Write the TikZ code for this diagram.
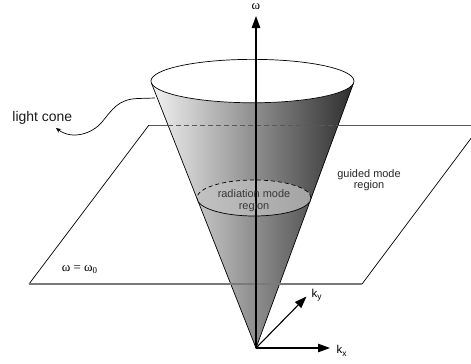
\documentclass[tikz,border=0pt]{standalone}
\usepackage{fontspec}
\setmainfont{Liberation Sans}
\newfontfamily\grk{Liberation Serif}
\usetikzlibrary{arrows.meta}
\newcommand\myfs[1]{\fontsize{#1}{#1}\selectfont}
\newcommand\mysub[2]{\raisebox{-#2}{\myfs{8.5}#1}}
\begin{document}
\begin{tikzpicture}[x=1bp,y=-1bp,
  edge/.style={line width=0.7bp, black},
  backedge/.style={line width=0.9bp, black!65},
  frontedge/.style={line width=1.6bp, black!52},
  axis/.style={line width=1.1bp, black, -{Triangle[length=12bp,width=8.5bp]}},
  lbl/.style={inner sep=0pt, font=\myfs{11}, text=black!85},
  rlbl/.style={inner sep=0pt, font=\myfs{11}, text=black!78},
  grklbl/.style={inner sep=0pt, font=\grk\myfs{13}},
]
\useasboundingbox (0,0) rectangle (471,363);
\clip (0,0) rectangle (471,363);
% key points
\coordinate (O) at (256,348);
\coordinate (TL) at (151.3,82.8);
\coordinate (TR) at (353.66,82.76);
\coordinate (TC) at (252.47,81.06);
\coordinate (PBL) at (149,125);
\coordinate (PBR) at (481,125);
\coordinate (PFR) at (362,284);
\coordinate (PFL) at (29,284);
\coordinate (CL) at (168,125);
\coordinate (CR) at (338.1,125);
\coordinate (RC) at (254,198);
\coordinate (RL) at (197,198);
\coordinate (RR) at (311,198);
\coordinate (Wtip) at (256,16);
\coordinate (KX) at (330,348);
\coordinate (KY) at (306.5,296.5);
\coordinate (lcs) at (155,98);
\coordinate (lce) at (56,128);
% plane (back parts)
\draw[edge] (PFL) -- (PBL);
\draw[edge] (PFR) -- (PBR);
\draw[backedge] (PBL) -- (CL);
\draw[backedge] (CR) -- (PBR);
% cone
\shade[left color=black!5, right color=black!82]
  (O) -- (TL) arc[start angle=184.6, end angle=355.5, x radius=101.5bp, y radius=21.7bp] -- cycle;
\draw[edge] (TL) -- (O) -- (TR);
\draw[edge, fill=white] (TC) ellipse[x radius=101.5bp, y radius=21.7bp];
% hidden back edge
\draw[backedge, dash pattern=on 5bp off 3bp] (CL) -- (CR);
% radiation region
\shade[left color=black!24, right color=black!36] (RC) ellipse[x radius=57bp, y radius=18bp];
\draw[edge] (RL) arc[start angle=180, end angle=360, x radius=57bp, y radius=18bp];
\draw[edge, dash pattern=on 4bp off 3bp] (RR) arc[start angle=0, end angle=180, x radius=57bp, y radius=18bp];
% front edge of the plane
\draw[frontedge] (PFL) -- (PFR);
% axes
\draw[axis] (O) -- (Wtip);
\draw[axis] (O) -- (KX);
\draw[axis] (O) -- (KY);
% labels
\node[grklbl, font=\grk\myfs{13}] (w) at (256,7) {ω};
\node[grklbl, anchor=base west] (w0) at (61.7,271) {ω = ω\raisebox{-2.5bp}{\myfs{9}0}};
\node[lbl, anchor=base west, font=\myfs{11.5}, text=black] (kx) at (336.5,353) {k\mysub{x}{3bp}};
\node[lbl, anchor=base west, font=\myfs{11.5}, text=black] (ky) at (311.5,297) {k\mysub{y}{2.5bp}};
\node[lbl, anchor=base west, font=\myfs{14}, text=black!90] (lc) at (12.3,121.7) {light cone};
\node[lbl, anchor=base] (g1) at (369,177.3) {guided mode};
\node[lbl, anchor=base] (g2) at (369,188.5) {region};
\node[rlbl, anchor=base] (r1) at (254,197.3) {radiation mode};
\node[rlbl, anchor=base] (r2) at (254,209.3) {region};
% light cone pointer
\draw[edge, -{Stealth[length=5bp,width=4.5bp]}] (lcs) -- (138,98.5)
  .. controls (118,99) and (112,110) .. (102,122)
  .. controls (92,134) and (72,140) .. (lce);
\end{tikzpicture}
\end{document}
